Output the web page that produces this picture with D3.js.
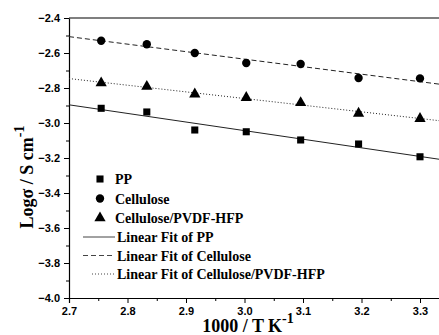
<!DOCTYPE html>
<html>
<head>
<meta charset="utf-8">
<script src="https://cdn.jsdelivr.net/npm/d3@7"></script>
<style>
  body { margin: 0; background: #fff; }
  svg { display: block; }
  .tick text { font-family: Arial, "Liberation Sans", sans-serif; font-weight: bold; font-size: 11px; }
  .lab { font-family: "Liberation Serif", "Times New Roman", serif; font-weight: bold; }
</style>
</head>
<body>
<div id="chart"></div>
<script>
// 1000/T values
const invT = [2.755, 2.833, 2.915, 3.003, 3.096, 3.195, 3.300];
const pp = [-2.916, -2.937, -3.040, -3.050, -3.097, -3.120, -3.193];
const cellulose = [-2.530, -2.550, -2.600, -2.657, -2.663, -2.743, -2.745];
const cellPvdf = [-2.772, -2.792, -2.835, -2.855, -2.884, -2.945, -2.975];
const xTicks = [2.7, 2.8, 2.9, 3.0, 3.1, 3.2, 3.3];
const yTicks = [-2.4, -2.6, -2.8, -3.0, -3.2, -3.4, -3.6, -3.8, -4.0];

const series = [
  { name: 'PP', values: pp, symbol: d3.symbolSquare, size: 50, fitDash: null, legStart: 83 },
  { name: 'Cellulose', values: cellulose, symbol: d3.symbolCircle, size: 55, fitDash: '5,3', legStart: 83 },
  { name: 'Cellulose/PVDF-HFP', values: cellPvdf, symbol: d3.symbolTriangle, size: 55, fitDash: '1,2', legStart: 92 }
];

const W = 439, H = 335;
const margin = { top: 18, left: 69 };
const svg = d3.select('#chart').append('svg').attr('width', W).attr('height', H);

const x = d3.scaleLinear().domain([2.7, 3.35]).range([margin.left, margin.left + 0.65 * 585]);
const y = d3.scaleLinear().domain([-4.0, -2.4]).range([298, 18]);

// least squares fit
function fit(xs, ys) {
  const mx = d3.mean(xs), my = d3.mean(ys);
  let sxy = 0, sxx = 0;
  xs.forEach((v, i) => { sxy += (v - mx) * (ys[i] - my); sxx += (v - mx) * (v - mx); });
  const b = sxy / sxx;
  return { b, a: my - b * mx };
}

// axes
const xMinor = d3.range(2.75, 3.35, 0.1);
const yMinor = d3.range(-3.9, -2.4, 0.2);

svg.append('g').attr('transform', `translate(0,${y(-4.0)})`)
  .call(d3.axisBottom(x).tickValues(xMinor).tickSize(3).tickFormat(''))
  .call(g => g.select('.domain').remove());
svg.append('g').attr('transform', `translate(0,${y(-4.0)})`)
  .call(d3.axisBottom(x).tickValues(xTicks).tickSize(5).tickPadding(4).tickFormat(d3.format('.1f')))
  .call(g => g.select('.domain').attr('stroke-width', 1.2));

svg.append('g').attr('transform', `translate(${x(2.7)},0)`)
  .call(d3.axisLeft(y).tickValues(yMinor).tickSize(3).tickFormat(''))
  .call(g => g.select('.domain').remove());
svg.append('g').attr('transform', `translate(${x(2.7)},0)`)
  .call(d3.axisLeft(y).tickValues(yTicks).tickSize(5).tickPadding(4).tickFormat(d3.format('.1f')))
  .call(g => g.select('.domain').attr('stroke-width', 1.2));

// top frame
svg.append('line')
  .attr('x1', x(2.7)).attr('x2', x(3.35))
  .attr('y1', y(-2.4)).attr('y2', y(-2.4))
  .attr('stroke', '#555').attr('stroke-width', 1.6);

// fits and points
series.forEach(s => {
  const f = fit(invT, s.values);
  const ends = [2.7, 3.35];
  svg.append('line')
    .attr('x1', x(ends[0])).attr('y1', y(f.a + f.b * ends[0]))
    .attr('x2', x(ends[1])).attr('y2', y(f.a + f.b * ends[1]))
    .attr('stroke', '#222').attr('stroke-width', 1)
    .attr('stroke-dasharray', s.fitDash);
  svg.append('g').selectAll('path').data(s.values).join('path')
    .attr('transform', (d, i) => `translate(${x(invT[i])},${y(d)})`)
    .attr('d', d3.symbol().type(s.symbol).size(s.size))
    .attr('fill', '#000');
});

// legend
const legX = 100, txtX = 115;
series.forEach((s, i) => {
  const ly = 179 + i * 19.5;
  svg.append('path').attr('transform', `translate(${legX},${ly})`)
    .attr('d', d3.symbol().type(s.symbol).size(s.size)).attr('fill', '#000');
  svg.append('text').attr('class', 'lab').attr('x', txtX).attr('y', ly + 5)
    .attr('font-size', 14).text(s.name);
});
series.forEach((s, i) => {
  const ly = 237 + i * 18.5;
  svg.append('line').attr('x1', s.legStart).attr('x2', 115).attr('y1', ly).attr('y2', ly)
    .attr('stroke', '#444').attr('stroke-width', 1).attr('stroke-dasharray', s.fitDash);
  svg.append('text').attr('class', 'lab').attr('x', txtX + 2).attr('y', ly + 5)
    .attr('font-size', 14).text('Linear Fit of ' + s.name);
});

// axis titles
const xt = svg.append('text').attr('class', 'lab').attr('x', 248).attr('y', 332)
  .attr('text-anchor', 'middle').attr('font-size', 18);
xt.append('tspan').text('1000 / T K');
xt.append('tspan').attr('dy', -9).attr('font-size', 14).text('-1');

const yt = svg.append('text').attr('class', 'lab')
  .attr('transform', 'translate(33,177) rotate(-90)')
  .attr('text-anchor', 'middle').attr('font-size', 18);
yt.append('tspan').text('Logσ / S cm');
yt.append('tspan').attr('dy', -9).attr('font-size', 14).text('-1');
</script>
</body>
</html>
